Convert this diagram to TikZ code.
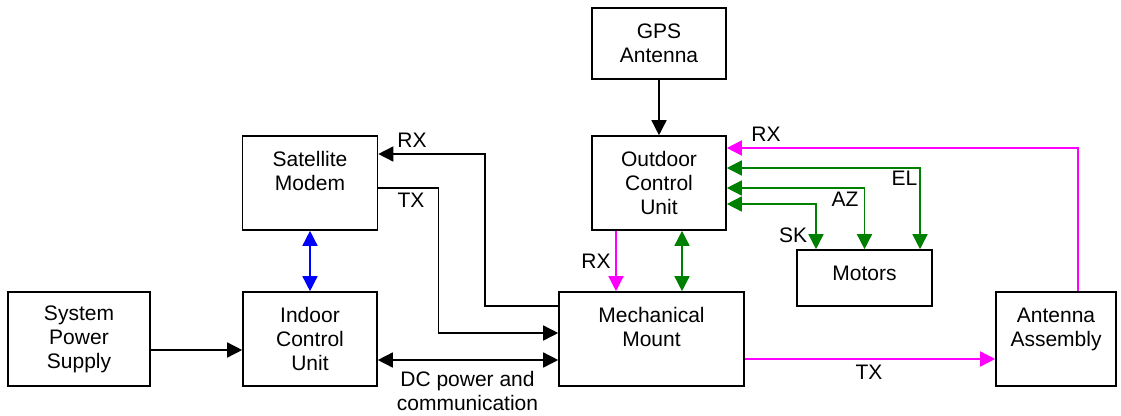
\documentclass[tikz,border=0pt]{standalone}
\usepackage{fontspec}
\setmainfont{Liberation Sans}
\usepackage{tikz}
\usetikzlibrary{arrows.meta}

\definecolor{mag}{RGB}{255,0,255}
\definecolor{grn}{RGB}{0,128,0}
\definecolor{blu}{RGB}{0,0,255}

\begin{document}
\begin{tikzpicture}[x=1pt,y=-1pt,>={Triangle[length=15pt,width=15pt]},
                    line width=1.5pt]
  \tikzstyle{every node}=[font=\fontsize{21}{24}\selectfont,inner sep=0pt]
  \tikzstyle{blk}=[draw,line width=1.6pt,align=center,minimum height=94pt]
\useasboundingbox (0,0) rectangle (1121,415);

\node [blk,minimum width=134pt,minimum height=71pt] (gps) at (659,43.5) {GPS\\Antenna};
\node [blk,minimum width=135pt] (modem) at (310,183) {Satellite\\Modem\\\mbox{}};
\node [blk,minimum width=134pt] (ocu) at (659,183) {Outdoor\\Control\\Unit};
\node [blk,minimum width=135pt,minimum height=56pt,text depth=10pt] (motors) at (864.5,278) {Motors};
\node [blk,minimum width=142pt] (psu) at (79,339) {System\\Power\\Supply};
\node [blk,minimum width=134pt] (icu) at (310,339) {Indoor\\Control\\Unit};
\node [blk,minimum width=185pt] (mount) at (651.5,339) {Mechanical\\Mount\\\mbox{}};
\node [blk,minimum width=120pt] (ant) at (1056,339) {Antenna\\Assembly\\\mbox{}};

% black links
\draw[->] (gps) -- (ocu);
\draw[->] ([yshift=-11pt]psu.east) -- ([yshift=-11pt]icu.west);
\draw[<->] ([yshift=-21pt]icu.east) -- ([yshift=-21pt]mount.west);
\draw[->] ([yshift=-5pt]modem.east) -- ++(60,0) |- ([yshift=6pt]mount.west);
\draw[->] ([yshift=33pt]mount.west) -- ++(-73,0) |- ([yshift=29pt]modem.east);

% blue link
\draw[blu,<->] (modem) -- (icu);

% RX / TX
\draw[mag,->] ([xshift=-43pt]ocu.south) -- ([xshift=-43pt]ocu.south |- mount.north);
\draw[mag,->] ([yshift=-20pt]mount.east) -- ([yshift=-20pt]ant.west);
\draw[mag,->] ([xshift=22pt]ant.north) |- ([yshift=35pt]ocu.east);

% motor control
\draw[grn,<->] ([xshift=23pt]ocu.south) -- ([xshift=23pt]ocu.south |- mount.north);
\draw[grn,<->] ([yshift=15pt]ocu.east) -| ([xshift=55.5pt]motors.north);
\draw[grn,<->] ([yshift=-5pt]ocu.east) -| (motors.north);
\draw[grn,<->] ([yshift=-21pt]ocu.east) -| ([xshift=-48.5pt]motors.north);

% labels
\node (rxmodem) at (412,140) {RX};
\node (txmodem) at (411,200) {TX};
\node (rxmount) at (596,261.5) {RX};
\node (rxocu) at (766,134) {RX};
\node (el) at (904.5,178.5) {EL};
\node (az) at (845,199.5) {AZ};
\node (sk) at (793,235.5) {SK};
\node (txant) at (869,372) {TX};
\node [align=center] (dc) at (467.5,390.5) {DC power and\\communication};

\end{tikzpicture}
\end{document}
